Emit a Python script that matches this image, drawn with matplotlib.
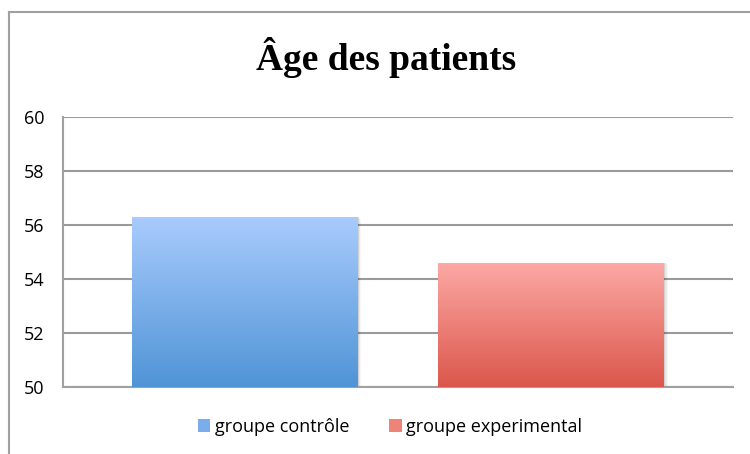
import matplotlib
matplotlib.use("Agg")
import matplotlib.pyplot as plt
import numpy as np
from matplotlib.colors import LinearSegmentedColormap
from matplotlib.lines import Line2D
from matplotlib.patches import Rectangle

categories = ["groupe contrôle", "groupe experimental"]
values = [56.28, 54.6]
yticks = [50, 52, 54, 56, 58, 60]
title = "Âge des patients"
top_colors = ["#a9cbfd", "#fda9a6"]
bottom_colors = ["#4f94d6", "#db574b"]

W, H = 750, 454
fig = plt.figure(figsize=(W / 100, H / 100), dpi=100)
fig.patch.set_facecolor("white")

# outer chart frame (left and top edges visible)
fig.add_artist(Line2D([9 / W, 9 / W], [0, 1 - 12 / H], transform=fig.transFigure,
                      color="#a0a0a0", lw=1.5))
fig.add_artist(Line2D([9 / W, 1], [1 - 12 / H, 1 - 12 / H], transform=fig.transFigure,
                      color="#a0a0a0", lw=1.5))

left, right = 63 / W, 733 / W
bottom, top = 1 - 387 / H, 1 - 117 / H
ax = fig.add_axes([left, bottom, right - left, top - bottom])
XLIM = (-0.593, 1.593)
ax.set_xlim(*XLIM)
ax.set_ylim(50, 60)
ax.set_yticks(yticks)
ax.set_yticklabels([str(t) for t in yticks], fontsize=13, family="Open Sans")
ax.tick_params(axis="y", length=0, pad=13.5)
ax.set_xticks([])
for s in ["top", "right"]:
    ax.spines[s].set_visible(False)
for s in ["left", "bottom"]:
    ax.spines[s].set_color("#a0a0a0")
    ax.spines[s].set_linewidth(1.5)
ax.yaxis.grid(True, color="#9a9a9a", lw=1.5)
ax.set_axisbelow(True)

width = 0.737
grad = np.linspace(0, 1, 256).reshape(-1, 1)
for i, (cat, v) in enumerate(zip(categories, values)):
    x0 = i - width / 2
    # soft shadow
    for k, a in enumerate([0.10, 0.06, 0.03]):
        ax.add_patch(Rectangle((x0 + 0.004 * (k + 1), 50), width, v - 50 - 0.02 * k,
                               facecolor="black", alpha=a, lw=0, zorder=2))
    bars = ax.bar(i, v - 50, bottom=50, width=width, color=top_colors[i], lw=0,
                  zorder=3, label=cat)
    cmap = LinearSegmentedColormap.from_list("g%d" % i, [bottom_colors[i], top_colors[i]])
    im = ax.imshow(grad, extent=[x0, x0 + width, 50, v], origin="lower", aspect="auto",
                   cmap=cmap, zorder=4)
    im.set_clip_path(bars.patches[0])
ax.set_xlim(*XLIM)
ax.set_ylim(50, 60)

fig.text(386 / W, 1 - 57 / H, title, ha="center", va="center", fontsize=27,
         fontweight="bold", family="Liberation Serif")

handles = [Rectangle((0, 0), 1, 1, facecolor=c) for c in ["#79adeb", "#ee8378"]]
leg = fig.legend(handles, categories, loc="center", bbox_to_anchor=(390 / W, 1 - 427 / H),
                 ncol=2, frameon=False, prop={"family": "Open Sans", "size": 13},
                 handlelength=0.7, handleheight=0.7, handletextpad=0.25, columnspacing=2.2)
fig.savefig("out.png", dpi=100, facecolor="white")
